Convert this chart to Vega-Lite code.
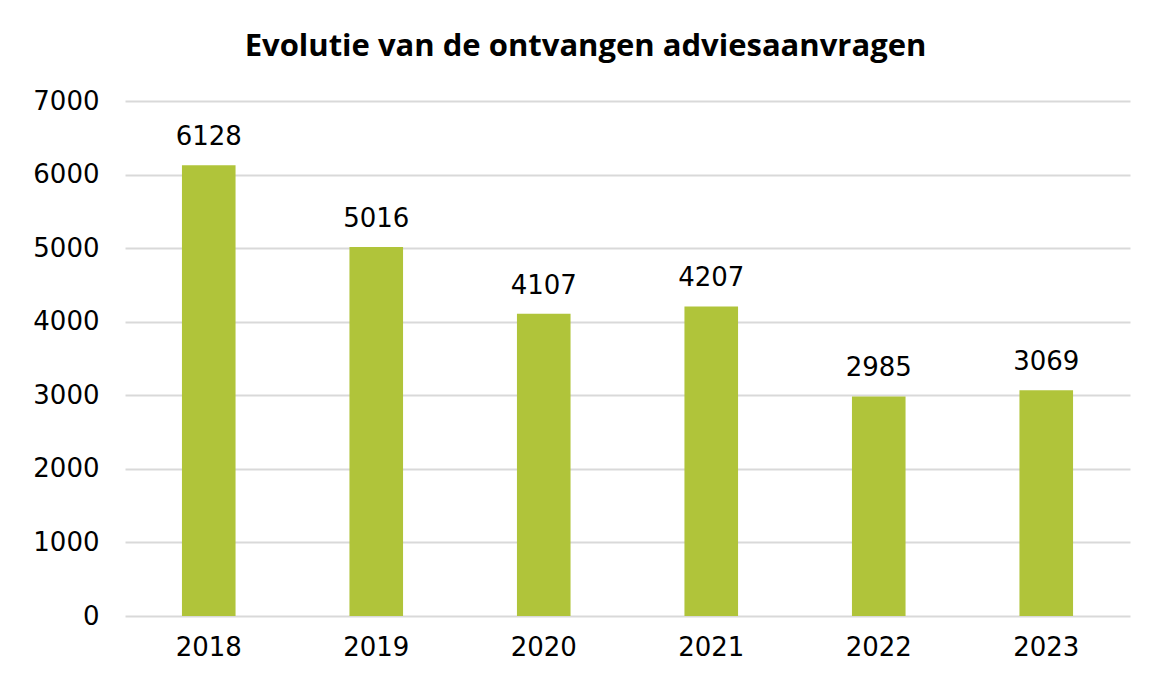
{
  "$schema": "https://vega.github.io/schema/vega-lite/v6.json",
  "autosize": "none",
  "width": 1005,
  "height": 515,
  "padding": {"left": 125, "top": 101, "right": 23, "bottom": 62},
  "background": "white",
  "title": {
    "text": "Evolutie van de ontvangen adviesaanvragen",
    "anchor": "middle",
    "frame": "group",
    "dx": -42,
    "offset": 25,
    "font": "Open Sans",
    "fontSize": 31,
    "fontWeight": "bold",
    "color": "#000000"
  },
  "data": {
    "values": [
      {"jaar": "2018", "aantal": 6128},
      {"jaar": "2019", "aantal": 5016},
      {"jaar": "2020", "aantal": 4107},
      {"jaar": "2021", "aantal": 4207},
      {"jaar": "2022", "aantal": 2985},
      {"jaar": "2023", "aantal": 3069}
    ]
  },
  "encoding": {
    "x": {
      "field": "jaar",
      "type": "ordinal",
      "scale": {"paddingInner": 0.68, "paddingOuter": 0.34},
      "axis": {
        "title": null,
        "labelAngle": 0,
        "labelFont": "DejaVu Sans",
        "labelFontSize": 26,
        "labelColor": "#000000",
        "labelPadding": 18,
        "ticks": false,
        "domain": false
      }
    },
    "y": {
      "field": "aantal",
      "type": "quantitative",
      "scale": {"domain": [0, 7000]},
      "axis": {
        "title": null,
        "format": "d",
        "values": [0, 1000, 2000, 3000, 4000, 5000, 6000, 7000],
        "labelFont": "DejaVu Sans",
        "labelFontSize": 26,
        "labelColor": "#000000",
        "labelPadding": 26,
        "ticks": false,
        "domain": false,
        "gridColor": "#d9d9d9",
        "gridWidth": 2
      }
    }
  },
  "layer": [
    {"mark": {"type": "bar", "color": "#B0C43A"}},
    {
      "mark": {"type": "text", "dy": -28, "font": "DejaVu Sans", "fontSize": 26, "color": "#000000"},
      "encoding": {"text": {"field": "aantal", "type": "quantitative", "format": "d"}}
    }
  ],
  "config": {"view": {"stroke": null}}
}
